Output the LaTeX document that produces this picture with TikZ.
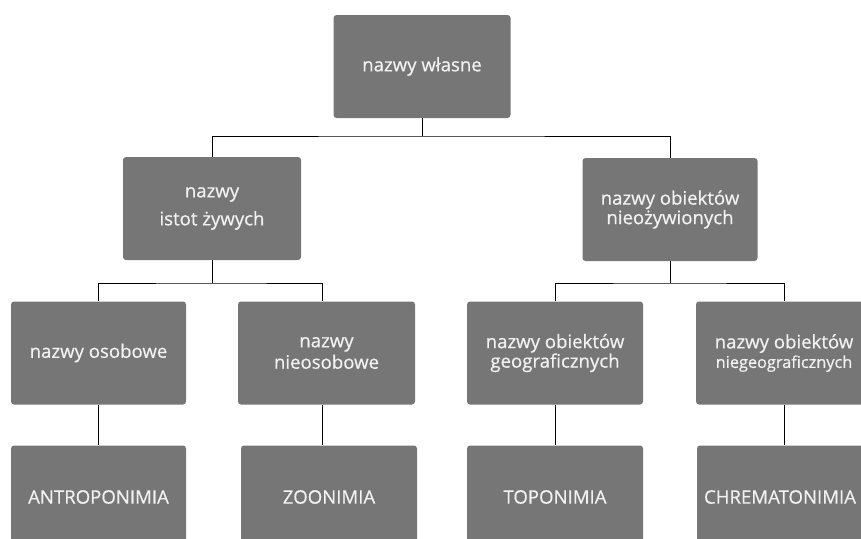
\documentclass[tikz,border=0pt]{standalone}
\usepackage{fontspec}
\setmainfont{Open Sans}
\newfontfamily\boxfont{Open Sans}[FakeBold=0.5]
\definecolor{boxgray}{HTML}{767676}
\definecolor{txt}{HTML}{F2F2F2}
\tikzset{
  box/.style={fill=boxgray, draw=none, rounded corners=3pt, minimum width=176pt, minimum height=103pt,
    text=txt, align=center, font=\boxfont\fontsize{18.6}{19.5}\selectfont, inner sep=0pt},
  link/.style={draw=black, line width=0.9pt}
}
\begin{document}
\begin{tikzpicture}[x=1pt,y=-1pt]
\path[use as bounding box] (0,0) rectangle (861,538);
\clip (0,0) rectangle (861,538);
\node[box, minimum width=177pt] (top) at (422,66.5) {nazwy własne};
\node[box, minimum width=178pt, font=\boxfont\fontsize{18.6}{28}\selectfont] (l2a) at (212,208.5) {nazwy\\istot żywych};
\node[box, minimum width=175pt] (l2b) at (670,209.5) {nazwy obiektów\\nieożywionych};
\node[box, minimum width=175pt] (l3a) at (98.5,353) {nazwy osobowe};
\node[box, minimum width=177pt, font=\boxfont\fontsize{18.6}{21.5}\selectfont] (l3b) at (326.5,353) {nazwy\\nieosobowe};
\node[box, minimum width=176pt] (l3c) at (555,353) {nazwy obiektów\\geograficznych};
\node[box, minimum width=176pt] (l3d) at (784,353) {nazwy obiektów\\{\fontsize{16.3}{19}\selectfont niegeograficznych}};
\node[box, minimum width=175pt] (l4a) at (98.5,497) {ANTROPONIMIA};
\node[box, minimum width=176pt] (l4b) at (329,497) {ZOONIMIA};
\node[box, minimum width=176pt] (l4c) at (555,497) {TOPONIMIA};
\node[box, minimum width=176pt] (l4d) at (785,497) {CHREMATONIMIA\kern10pt};
\coordinate (bus1) at (422,136);
\coordinate (bus2) at (212,283);
\coordinate (bus3) at (670,283);
\draw[link] (top.south) -- (bus1);
\draw[link] (l2a.north) |- (bus1) -| (l2b.north);
\draw[link] (l2a.south) -- (bus2);
\draw[link] (l3a.north) |- (bus2) -| ([xshift=-4.5pt]l3b.north);
\draw[link] (l2b.south) -- (bus3);
\draw[link] (l3c.north) |- (bus3) -| (l3d.north);
\draw[link] (l3a.south) -- (l4a.north);
\draw[link] ([xshift=-4.5pt]l3b.south) -- ([xshift=-7pt]l4b.north);
\draw[link] (l3c.south) -- (l4c.north);
\draw[link] (l3d.south) -- ([xshift=-1pt]l4d.north);
\end{tikzpicture}
\end{document}
